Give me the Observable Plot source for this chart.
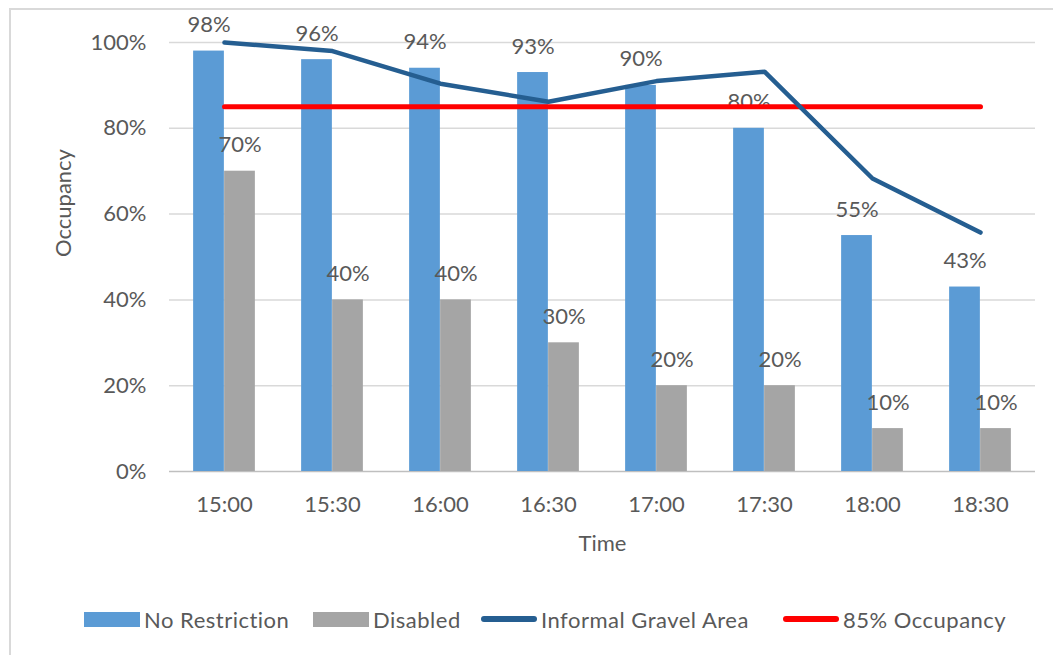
<!DOCTYPE html>
<html><head><meta charset="utf-8">
<script src="https://cdn.jsdelivr.net/npm/d3@7"></script>
<script src="https://cdn.jsdelivr.net/npm/@observablehq/plot@0.6"></script>
<style>
body{margin:0;background:#fff;font-family:Lato,sans-serif;}
#wrap{position:relative;width:1053px;height:655px;overflow:hidden;}
#frame{position:absolute;left:9px;top:8px;width:1100px;height:700px;border:2px solid #d9d9d9;box-sizing:border-box;}
#chart{position:absolute;left:0;top:0;}
.item{position:absolute;top:607px;height:24px;display:flex;align-items:center;font-size:22px;letter-spacing:0.5px;color:#595959;white-space:nowrap;}
.sw{width:56px;margin-right:4px;}
</style></head>
<body>
<div id="wrap"><div id="frame"></div><div id="chart"></div><div id="legend"></div></div>
<script>
const times = ["15:00","15:30","16:00","16:30","17:00","17:30","18:00","18:30"];
const noRestriction = [98,96,94,93,90,80,55,43];
const disabled = [70,40,40,30,20,20,10,10];
const informalGravel = [100,98,90.4,86.2,91,93.2,68.3,55.7];
const occupancyTarget = [85,85,85,85,85,85,85,85];
const yTicks = [0,20,40,60,80,100];
const seriesNames = ["No Restriction","Disabled","Informal Gravel Area","85% Occupancy"];
const colors = ["#5b9bd5","#a5a5a5","#255e91","#ff0000"];

const W = 1053, H = 580, mL = 169, mR = 18, mT = 42, mB = 109;
const band = (W - mL - mR) / times.length;
const barW = 31;
const inset = (band - barW) / 2;

const blueData = times.map((t,i)=>({t, v:noRestriction[i]}));
const grayData = times.map((t,i)=>({t, v:disabled[i]}));
const lineData = times.map((t,i)=>({t, v:informalGravel[i]}));
const redData = times.map((t,i)=>({t, v:occupancyTarget[i]}));
const pct = d => d + "%";

const chart = Plot.plot({
  width: W, height: H, marginLeft: mL, marginRight: mR, marginTop: mT, marginBottom: mB,
  style: {fontFamily: "Lato, sans-serif", fontSize: "22px", color: "#595959", background: "transparent"},
  x: {domain: times, padding: 0},
  y: {domain: [0,100]},
  marks: [
    Plot.ruleY(yTicks.filter(d=>d>0), {stroke: "#d9d9d9", strokeWidth: 1.5, strokeOpacity: 1}),
    Plot.ruleY([0], {stroke: "#bfbfbf", strokeWidth: 1.5, strokeOpacity: 1}),
    Plot.barY(blueData, {x: "t", y: "v", fill: colors[0], insetLeft: inset, insetRight: inset, dx: -barW/2}),
    Plot.barY(grayData, {x: "t", y: "v", fill: colors[1], insetLeft: inset, insetRight: inset, dx: barW/2}),
    Plot.text(blueData, {x: "t", y: "v", text: d=>pct(d.v), dx: -barW/2, dy: -26, fill: "#595959"}),
    Plot.text(grayData, {x: "t", y: "v", text: d=>pct(d.v), dx: barW/2, dy: -26, fill: "#595959"}),
    Plot.line(redData, {x: "t", y: "v", stroke: colors[3], strokeWidth: 5, strokeLinecap: "round"}),
    Plot.line(lineData, {x: "t", y: "v", stroke: colors[2], strokeWidth: 4.5, strokeLinecap: "round", strokeLinejoin: "round"}),
    Plot.axisX({tickSize: 0, tickPadding: 25, label: null, fill: "#595959"}),
    Plot.axisY({ticks: yTicks, tickFormat: pct, tickSize: 0, tickPadding: 23, label: null, fill: "#595959"}),
    Plot.text(["Occupancy"], {frameAnchor: "left", rotate: -90, dx: -106, fill: "#595959"}),
    Plot.text(["Time"], {frameAnchor: "bottom", dy: 79, fill: "#595959"})
  ]
});
document.getElementById("chart").appendChild(chart);

const legendPos = [84, 313, 481, 783];
const legend = document.getElementById("legend");
seriesNames.forEach((name,i)=>{
  const it = document.createElement("div");
  it.className = "item";
  it.style.left = legendPos[i] + "px";
  const sw = document.createElement("span");
  sw.className = "sw";
  sw.style.background = colors[i];
  if (i < 2) { sw.style.height = "15px"; }
  else { sw.style.height = "6px"; sw.style.borderRadius = "3px"; }
  it.appendChild(sw);
  const tx = document.createElement("span");
  tx.textContent = name;
  it.appendChild(tx);
  legend.appendChild(it);
});
</script>
</body></html>
